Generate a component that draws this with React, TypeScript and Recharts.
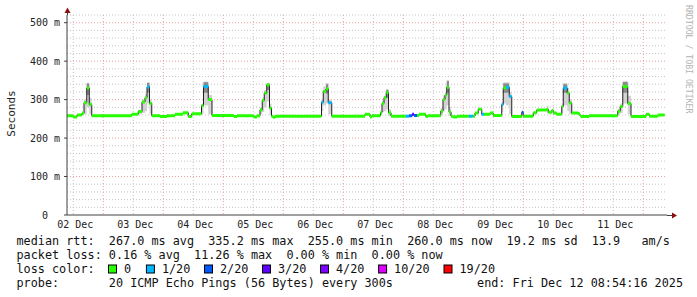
import React from "react";
import { ComposedChart, Line, Area, XAxis, YAxis, CartesianGrid } from "recharts";

const MONO = '"DejaVu Sans Mono", monospace';

// x values are hours counted from 02 Dec 00:00, y values are ms
const startHour = 9.5;
const endHour = 249.5;
const lastSample = 248.5;

// median rtt, as steps: each step starts at segStart[i] and runs to the next one
const segStart = [
  9.5, 11.9, 13.5, 15.5, 16.3, 17.4, 18.4, 19.4, 35.4, 38.0,
  39.5, 40.7, 41.5, 42.5, 43.4, 46.7, 49.5, 52.7, 55.9, 58.0,
  59.4, 63.3, 64.1, 66.0, 67.5, 76.2, 77.5, 84.2, 85.5, 86.7,
  87.6, 88.4, 89.4, 90.5, 91.3, 91.9, 92.8, 111.3, 112.0, 113.1,
  114.0, 115.4, 128.7, 130.7, 131.4, 134.9, 135.5, 136.3, 137.2, 138.1,
  139.1, 145.0, 146.3, 147.6, 148.3, 149.5, 150.3, 153.0, 153.8, 159.0,
  159.9, 160.7, 161.4, 162.3, 163.1, 163.9, 165.5, 170.3, 171.8, 172.7,
  174.0, 175.4, 176.3, 178.7, 180.0, 183.4, 184.0, 185.1, 186.4, 187.4,
  191.4, 192.0, 196.0, 197.4, 201.4, 202.0, 203.4, 204.0, 205.4, 207.4,
  208.0, 209.6, 210.4, 211.4, 214.0, 214.7, 215.1, 218.3, 229.8, 230.8,
  231.8, 233.8, 235.1, 241.1, 242.4, 245.8,
];
const segMedian = [
  258, 255, 260, 265, 292, 330, 287, 258, 262, 269,
  294, 305, 333, 290, 258, 256, 258, 262, 266, 256,
  263, 284, 334, 300, 259, 256, 258, 255, 258, 273,
  298, 317, 338, 278, 257, 254, 257, 293, 321, 328,
  292, 257, 262, 255, 258, 266, 290, 305, 318, 266,
  257, 257, 258, 262, 259, 259, 262, 256, 258, 270,
  300, 312, 332, 268, 257, 255, 257, 257, 257, 265,
  275, 262, 262, 265, 259, 287, 330, 332, 308, 256,
  267, 257, 266, 273, 275, 267, 272, 265, 262, 282,
  330, 317, 291, 265, 263, 258, 256, 258, 270, 282,
  334, 290, 256, 262, 257, 260,
];
// lost pings out of 20 for each step
const segLoss = [
  0, 0, 0, 0, 0, 0, 0, 0, 0, 0,
  0, 0, 1, 0, 0, 0, 0, 0, 0, 0,
  0, 0, 1, 0, 0, 0, 0, 0, 0, 0,
  0, 0, 0, 0, 0, 0, 0, 1, 0, 0,
  1, 0, 0, 0, 0, 0, 0, 0, 0, 0,
  0, 1, 2, 3, 2, 0, 0, 0, 0, 0,
  0, 0, 0, 0, 0, 0, 0, 1, 0, 0,
  0, 1, 0, 0, 0, 1, 0, 1, 1, 0,
  2, 0, 0, 0, 0, 0, 0, 0, 0, 0,
  1, 0, 0, 0, 0, 0, 0, 0, 0, 0,
  0, 0, 0, 0, 0, 0,
];

// smoke (spread of the 20 pings) around the daily peaks
const smokeFrom = [
  15.5, 16.3, 17.4, 18.4, 38.0, 39.5, 40.7, 41.5, 42.5, 55.9,
  63.3, 64.1, 66.0, 86.7, 87.6, 88.4, 89.4, 90.5, 111.3, 112.0,
  113.1, 114.0, 134.9, 135.5, 136.3, 137.2, 138.1, 159.0, 159.9, 160.7,
  161.4, 162.3, 183.4, 184.0, 185.1, 186.4, 201.4, 207.4, 208.0, 209.6,
  210.4, 229.8, 230.8, 231.8, 233.8,
];
const smokeTo = [
  16.3, 17.4, 18.4, 19.4, 39.5, 40.7, 41.5, 42.5, 43.4, 58.0,
  64.1, 66.0, 67.5, 87.6, 88.4, 89.4, 90.5, 91.3, 112.0, 113.1,
  114.0, 115.4, 135.5, 136.3, 137.2, 138.1, 139.1, 159.9, 160.7, 161.4,
  162.3, 163.1, 184.0, 185.1, 186.4, 187.4, 202.0, 208.0, 209.6, 210.4,
  211.4, 230.8, 231.8, 233.8, 235.1,
];
const smokeLow = [
  258, 262, 280, 262, 262, 265, 270, 290, 262, 262,
  262, 285, 262, 262, 268, 280, 295, 260, 270, 285,
  290, 262, 260, 268, 270, 275, 258, 262, 270, 275,
  285, 258, 268, 290, 285, 262, 265, 265, 285, 270,
  262, 262, 265, 290, 262,
];
const smokeHigh = [
  268, 300, 344, 305, 272, 300, 315, 345, 300, 268,
  290, 347, 312, 280, 305, 325, 343, 290, 300, 335,
  343, 300, 272, 297, 310, 328, 275, 278, 310, 320,
  351, 280, 295, 345, 345, 320, 285, 290, 343, 330,
  300, 276, 290, 348, 310,
];

// darker core of the smoke at the top of each peak
const coreFrom = [17.4, 41.5, 64.1, 89.4, 113.1, 137.2, 161.4, 184.0, 208.0, 231.8];
const coreTo = [18.4, 42.5, 66.0, 90.5, 114.0, 138.1, 162.3, 186.4, 209.6, 233.8];
const coreLow = [312, 318, 318, 325, 315, 305, 318, 318, 318, 318];
const coreHigh = [342, 343, 345, 342, 340, 325, 348, 342, 340, 346];

const dayTicks = [12, 36, 60, 84, 108, 132, 156, 180, 204, 228];
const dayLabels = ["02 Dec", "03 Dec", "04 Dec", "05 Dec", "06 Dec", "07 Dec", "08 Dec", "09 Dec", "10 Dec", "11 Dec"];
const midnights = [24, 48, 72, 96, 120, 144, 168, 192, 216, 240];

const yTicks = [0, 100, 200, 300, 400, 500];
const yLabels = ["0  ", "100 m", "200 m", "300 m", "400 m", "500 m"];
const minorY = [20, 40, 60, 80, 120, 140, 160, 180, 220, 240, 260, 280, 320, 340, 360, 380, 420, 440, 460, 480, 520];
const majorY = [100, 200, 300, 400, 500];

const lossLevels = [0, 1, 2, 3, 4, 10, 19];
const lossNames = ["0", "1/20", "2/20", "3/20", "4/20", "10/20", "19/20"];
const lossColors = ["#26ff00", "#00b8ff", "#0059ff", "#5e00ff", "#7e00ff", "#dd00ff", "#ff0000"];
const legendBoxX = [108.5, 146.4, 204.5, 262.5, 320.5, 378.6, 444];

const segEnd = (i: number) => (i + 1 < segStart.length ? segStart[i + 1] : lastSample);

const medianRows = segStart.flatMap((s, i) => [
  { t: s, v: segMedian[i] },
  { t: segEnd(i), v: segMedian[i] },
]);

const lossSeries = lossLevels
  .map((lvl, k) => ({
    color: lossColors[k],
    rows: segStart.flatMap((s, i) =>
      segLoss[i] === lvl
        ? [
            { t: s, v: segMedian[i] },
            { t: segEnd(i), v: segMedian[i] },
            { t: segEnd(i), v: null },
          ]
        : []
    ),
  }))
  .filter((s) => s.rows.length > 0);

const bandRows = (from: number[], to: number[], lo: number[], hi: number[]) =>
  from.flatMap((f, i) => [
    { t: f, band: [lo[i], hi[i]] },
    { t: to[i], band: [lo[i], hi[i]] },
    { t: to[i], band: null },
  ]);

const smokeRows = bandRows(smokeFrom, smokeTo, smokeLow, smokeHigh);
const coreRows = bandRows(coreFrom, coreTo, coreLow, coreHigh);

const XTick = (props: any) => {
  const { x, payload } = props;
  const i = dayTicks.indexOf(payload.value);
  return (
    <text x={x + 2} y={228} textAnchor="middle" fontFamily={MONO} fontSize={10} fill="#222">
      {dayLabels[i]}
    </text>
  );
};

const YTick = (props: any) => {
  const { y, payload } = props;
  const i = yTicks.indexOf(payload.value);
  return (
    <text x={60} y={y + 3.5} textAnchor="end" fontFamily={MONO} fontSize={10} fill="#222" style={{ whiteSpace: "pre" }}>
      {yLabels[i]}
    </text>
  );
};

const SecondsLabel = () => (
  <text x={15} y={113.5} transform="rotate(-90 15 113.5)" textAnchor="middle" fontFamily={MONO} fontSize={11} fill="#222">
    Seconds
  </text>
);

const legendText = { fontFamily: MONO, fontSize: 11.8, fill: "#111", whiteSpace: "pre" as const };

export default function App() {
  return (
    <div style={{ position: "absolute", left: 0, top: 0, width: 697, height: 297, background: "#fff", overflow: "hidden" }}>
      <ComposedChart width={697} height={297} margin={{ top: 15, right: 30, bottom: 62, left: 7 }}>
        <CartesianGrid horizontalValues={minorY} verticalValues={dayTicks} stroke="#c4c4c4" strokeDasharray="1 2" />
        <CartesianGrid horizontalValues={majorY} verticalValues={midnights} stroke="#e6a0a0" strokeDasharray="1 2" />
        <XAxis
          type="number"
          dataKey="t"
          domain={[startHour, endHour]}
          ticks={dayTicks}
          interval={0}
          tick={<XTick />}
          tickLine={false}
          axisLine={{ stroke: "#404040" }}
          height={20}
          allowDataOverflow
        />
        <YAxis
          type="number"
          domain={[0, 520]}
          ticks={yTicks}
          interval={0}
          width={60}
          tick={<YTick />}
          tickSize={3}
          tickLine={{ stroke: "#404040" }}
          axisLine={{ stroke: "#404040" }}
          label={<SecondsLabel />}
          allowDataOverflow
        />
        <Area data={smokeRows} dataKey="band" type="linear" fill="#d2d2d2" fillOpacity={1} stroke="none" dot={false} activeDot={false} isAnimationActive={false} />
        <Area data={coreRows} dataKey="band" type="linear" fill="#8a8a8a" fillOpacity={1} stroke="none" dot={false} activeDot={false} isAnimationActive={false} />
        <Line data={medianRows} dataKey="v" type="linear" stroke="#202020" strokeWidth={1} dot={false} activeDot={false} isAnimationActive={false} />
        {lossSeries.map((s) => (
          <Line
            key={s.color}
            data={s.rows}
            dataKey="v"
            type="linear"
            stroke={s.color}
            strokeWidth={3}
            strokeLinecap="butt"
            dot={false}
            activeDot={false}
            isAnimationActive={false}
          />
        ))}
      </ComposedChart>
      <svg width={697} height={297} style={{ position: "absolute", left: 0, top: 0, pointerEvents: "none" }}>
        <line x1={67.5} y1={15} x2={67.5} y2={12} stroke="#404040" />
        <polygon points="64.5,13 70.5,13 67.5,7.5" fill="#8b1010" />
        <line x1={667} y1={215.5} x2={672} y2={215.5} stroke="#404040" />
        <polygon points="672,212.5 672,218.5 677,215.5" fill="#8b1010" />
        <text x={686} y={5} transform="rotate(90 686 5)" fontFamily={MONO} fontSize={8.2} fill="#b4b4b4">
          RRDTOOL / TOBI OETIKER
        </text>
        <text x={16.5} y={245} style={legendText}>
          {"median rtt:  267.0 ms avg  335.2 ms max  255.0 ms min  260.0 ms now  19.2 ms sd  13.9   am/s"}
        </text>
        <text x={16.5} y={258.5} style={legendText}>
          {"packet loss: 0.16 % avg  11.26 % max  0.00 % min  0.00 % now"}
        </text>
        <text x={16.5} y={272.5} style={legendText}>
          {"loss color:"}
        </text>
        {lossNames.map((name, i) => (
          <g key={name}>
            <rect x={legendBoxX[i]} y={265} width={8} height={8} fill={lossColors[i]} stroke="#000" strokeWidth={1} />
            <text x={legendBoxX[i] + 15.5} y={272.5} style={legendText}>
              {name}
            </text>
          </g>
        ))}
        <text x={16.5} y={286.5} style={legendText}>
          {"probe:       20 ICMP Echo Pings (56 Bytes) every 300s"}
        </text>
        <text x={683} y={286.5} textAnchor="end" style={legendText}>
          {"end: Fri Dec 12 08:54:16 2025"}
        </text>
      </svg>
    </div>
  );
}
